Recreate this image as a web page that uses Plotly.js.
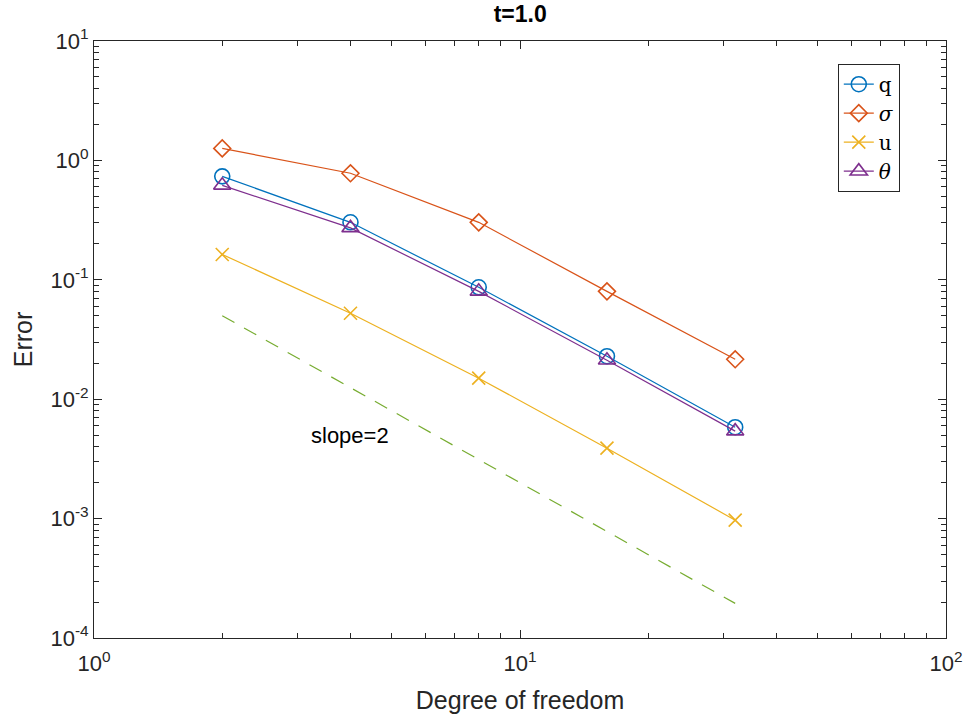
<!DOCTYPE html>
<html>
<head>
<meta charset="utf-8">
<script src="https://cdn.plot.ly/plotly-3.0.1.min.js"></script>
<style>html,body{margin:0;padding:0;background:#fff;}#chart{width:966px;height:721px;}</style>
</head>
<body>
<div id="chart"></div>
<script>
const dof = [2, 4, 8, 16, 32];
const errQ = [0.735, 0.303, 0.0865, 0.0229, 0.00583];
const errSigma = [1.26, 0.78, 0.303, 0.080, 0.0216];
const errU = [0.163, 0.0525, 0.015, 0.00389, 0.00097];
const errTheta = [0.618, 0.272, 0.080, 0.0212, 0.0054];
const slopeX = [2, 32];
const slopeY = [0.05, 0.000195];
const xTickVals = [1, 10, 100];
const xTickText = ['10<sup>0</sup>', '10<sup>1</sup>', '10<sup>2</sup>'];
const yTickVals = [0.0001, 0.001, 0.01, 0.1, 1, 10];
const yTickText = ['10<sup>-4</sup>', '10<sup>-3</sup>', '10<sup>-2</sup>', '10<sup>-1</sup>', '10<sup>0</sup>', '10<sup>1</sup>'];

function minorVals(lo, hi) {
  const v = [];
  for (let e = lo; e < hi; e++) for (let m = 2; m <= 9; m++) v.push(m * Math.pow(10, e));
  return v;
}

const traces = [
  {x: dof, y: errQ, name: 'q', mode: 'lines+markers',
   line: {color: '#0072BD', width: 1.2},
   marker: {symbol: 'circle-open', size: 15, color: '#0072BD', line: {width: 1.6}}},
  {x: dof, y: errSigma, name: '<i>σ</i>', mode: 'lines+markers',
   line: {color: '#D95319', width: 1.2},
   marker: {symbol: 'diamond-open', size: 13, color: '#D95319', line: {width: 1.6}}},
  {x: dof, y: errU, name: 'u', mode: 'lines+markers',
   line: {color: '#EDB120', width: 1.2},
   marker: {symbol: 'x-thin-open', size: 13, color: '#EDB120', line: {width: 1.6}}},
  {x: dof, y: errTheta, name: '<i>θ</i>', mode: 'lines+markers',
   line: {color: '#7E2F8E', width: 1.2},
   marker: {symbol: 'triangle-up-open', size: 15, color: '#7E2F8E', line: {width: 1.6}}},
  {x: slopeX, y: slopeY, name: 'slope', mode: 'lines', showlegend: false,
   line: {color: '#77AC30', width: 1.2, dash: '14px,11px'}}
];

const axisCommon = {
  type: 'log', showgrid: false, zeroline: false,
  showline: true, linecolor: '#262626', linewidth: 1, mirror: 'ticks',
  ticks: 'inside', ticklen: 8, tickcolor: '#262626', tickwidth: 1,
  tickmode: 'array',
  tickfont: {family: 'Liberation Sans, Arial, sans-serif', size: 22, color: '#262626'}
};

const layout = {
  width: 966, height: 721,
  margin: {l: 94, r: 20, t: 41, b: 83},
  paper_bgcolor: '#fff', plot_bgcolor: '#fff',
  title: {text: '<b>t=1.0</b>', x: 0.5385, xanchor: 'center', y: 0.98, yanchor: 'middle',
          font: {family: 'Liberation Sans, Arial, sans-serif', size: 23, color: '#000'}},
  xaxis: Object.assign({}, axisCommon, {
    range: [0, 2], tickvals: xTickVals, ticktext: xTickText, ticklabelstandoff: 6,
    minor: {tickvals: minorVals(0, 2), ticks: 'inside', ticklen: 5, tickcolor: '#262626'},
    title: {text: 'Degree of freedom', standoff: 16,
            font: {family: 'Liberation Sans, Arial, sans-serif', size: 25, color: '#262626'}}
  }),
  yaxis: Object.assign({}, axisCommon, {
    range: [-4, 1], tickvals: yTickVals, ticktext: yTickText,
    minor: {tickvals: minorVals(-4, 1), ticks: 'inside', ticklen: 5, tickcolor: '#262626'},
    title: {text: 'Error', standoff: 10,
            font: {family: 'Liberation Sans, Arial, sans-serif', size: 25, color: '#262626'}}
  }),
  legend: {x: 0.873, y: 0.962, xanchor: 'left', yanchor: 'top',
           bgcolor: '#fff', bordercolor: '#262626', borderwidth: 1,
           tracegroupgap: 0,
           font: {family: 'DejaVu Serif, Liberation Serif, serif', size: 20, color: '#000'}},
  annotations: [{x: Math.log10(4.0), y: Math.log10(0.005), xref: 'x', yref: 'y',
                 text: 'slope=2', showarrow: false,
                 font: {family: 'Liberation Sans, Arial, sans-serif', size: 22, color: '#000'}}]
};

Plotly.newPlot('chart', traces, layout, {displayModeBar: false});
</script>
</body>
</html>
